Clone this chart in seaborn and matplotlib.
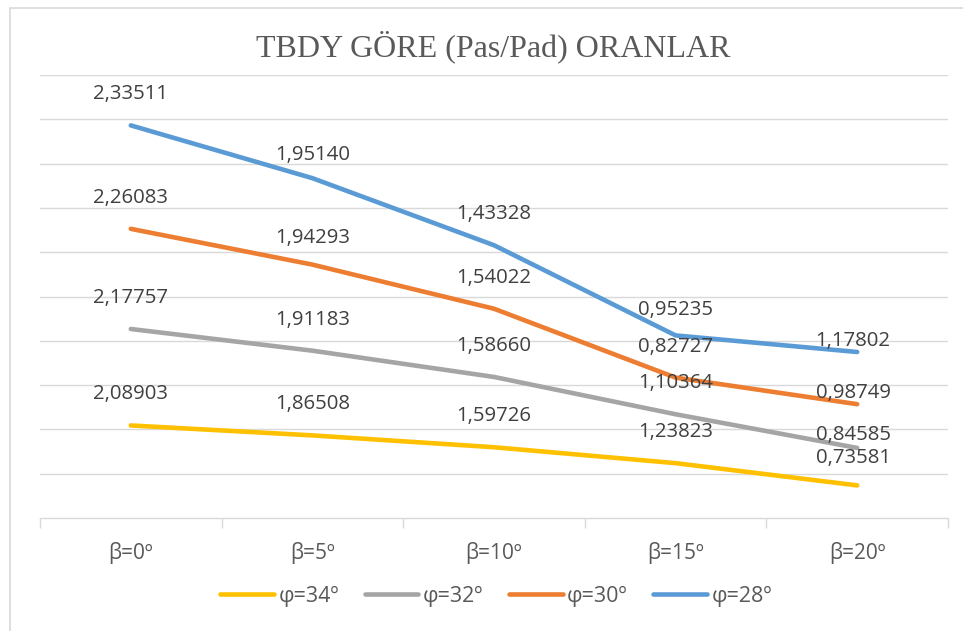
import numpy as np
import pandas as pd
import matplotlib
matplotlib.use("Agg")
import matplotlib.pyplot as plt
import seaborn as sns
from matplotlib.patches import Rectangle
from matplotlib.lines import Line2D

# ---- data -------------------------------------------------------------
categories = ["β=0º", "β=5º", "β=10º", "β=15º", "β=20º"]
series_names = ["φ=34º", "φ=32º", "φ=30º", "φ=28º"]
phi34 = [2.08903, 1.86508, 1.59726, 1.23823, 0.73581]
phi32 = [2.17757, 1.91183, 1.58660, 1.10364, 0.84585]
phi30 = [2.26083, 1.94293, 1.54022, 0.82727, 0.98749]
phi28 = [2.33511, 1.95140, 1.43328, 0.95235, 1.17802]
title = "TBDY GÖRE (Pas/Pad) ORANLAR"

colors = ["#FFC000", "#A5A5A5", "#ED7D31", "#5B9BD5"]

# stacked line chart: each series sits on top of the previous ones
values = np.array([phi34, phi32, phi30, phi28])
stacked = np.cumsum(values, axis=0)

rows = []
for s, name in enumerate(series_names):
    for i, cat in enumerate(categories):
        rows.append({"x": i, "y": stacked[s, i], "series": name,
                     "value": values[s, i]})
df = pd.DataFrame(rows)

# ---- figure -----------------------------------------------------------
sns.set_style("white")
plt.rcParams["font.family"] = ["Open Sans", "DejaVu Sans"]

fig = plt.figure(figsize=(9.63, 6.31), dpi=100)
ax = fig.add_axes([40 / 963, 1 - 518 / 631, 908 / 963, 443 / 631])

sns.lineplot(data=df, x="x", y="y", hue="series", palette=colors,
             hue_order=series_names, ax=ax, linewidth=3.3, legend=False,
             solid_capstyle="round", solid_joinstyle="round", zorder=3)

ax.set_xlim(-0.5, len(categories) - 0.5)
ax.set_ylim(0, 10)
ax.set_yticks(np.arange(1, 11))
ax.yaxis.grid(True, color="#D9D9D9", linewidth=1.0)
ax.set_axisbelow(True)
ax.tick_params(axis="y", left=False, labelleft=False)
ax.set_xticks(np.arange(-0.5, len(categories), 1.0))
ax.set_xticklabels([])
ax.tick_params(axis="x", bottom=True, length=7, width=1.0, color="#D9D9D9")
ax.set_xticks(np.arange(len(categories)), minor=True)
ax.set_xticklabels(categories, minor=True)
ax.tick_params(axis="x", which="minor", length=0, pad=17,
               labelsize=15, labelcolor="#595959")
for side in ["top", "left", "right"]:
    ax.spines[side].set_visible(False)
ax.spines["bottom"].set_color("#D9D9D9")
ax.spines["bottom"].set_linewidth(1.0)
ax.set_xlabel("")
ax.set_ylabel("")

# value labels above each point (a few nudged where they would collide)
label_nudge = {(3, 1): -23, (3, 3): -25, (2, 1): -27,
               (3, 4): -11, (2, 4): -11, (1, 4): -13, (0, 4): -27}
for s in range(len(series_names)):
    for i in range(len(categories)):
        dy = label_nudge.get((s, i), -31)
        dx = -4 if i == len(categories) - 1 else 0
        txt = f"{values[s, i]:.5f}".replace(".", ",")
        ax.annotate(txt, (i, stacked[s, i]), xytext=(dx, -dy),
                    textcoords="offset pixels", ha="center", va="center",
                    fontsize=14.7, color="#404040", zorder=4)

# title
fig.text(493 / 963, 1 - 47 / 631, title, ha="center", va="center",
         fontsize=23, color="#595959", family="Liberation Serif")

# legend
handles = [Line2D([], [], color=c, linewidth=3.3, solid_capstyle="round")
           for c in colors]
fig.legend(handles, series_names, loc="center", ncol=4,
           bbox_to_anchor=(496 / 963, 1 - 596 / 631), frameon=False,
           fontsize=15.5, labelcolor="#595959", handlelength=2.5,
           handletextpad=0.2, columnspacing=1.2)

# chart area border
fig.patches.append(Rectangle((10 / 963, -0.1), 1.2, 1 - 8 / 631 + 0.1,
                             transform=fig.transFigure, fill=False,
                             edgecolor="#D9D9D9", linewidth=1.2))

fig.savefig("out.png", dpi=100)
